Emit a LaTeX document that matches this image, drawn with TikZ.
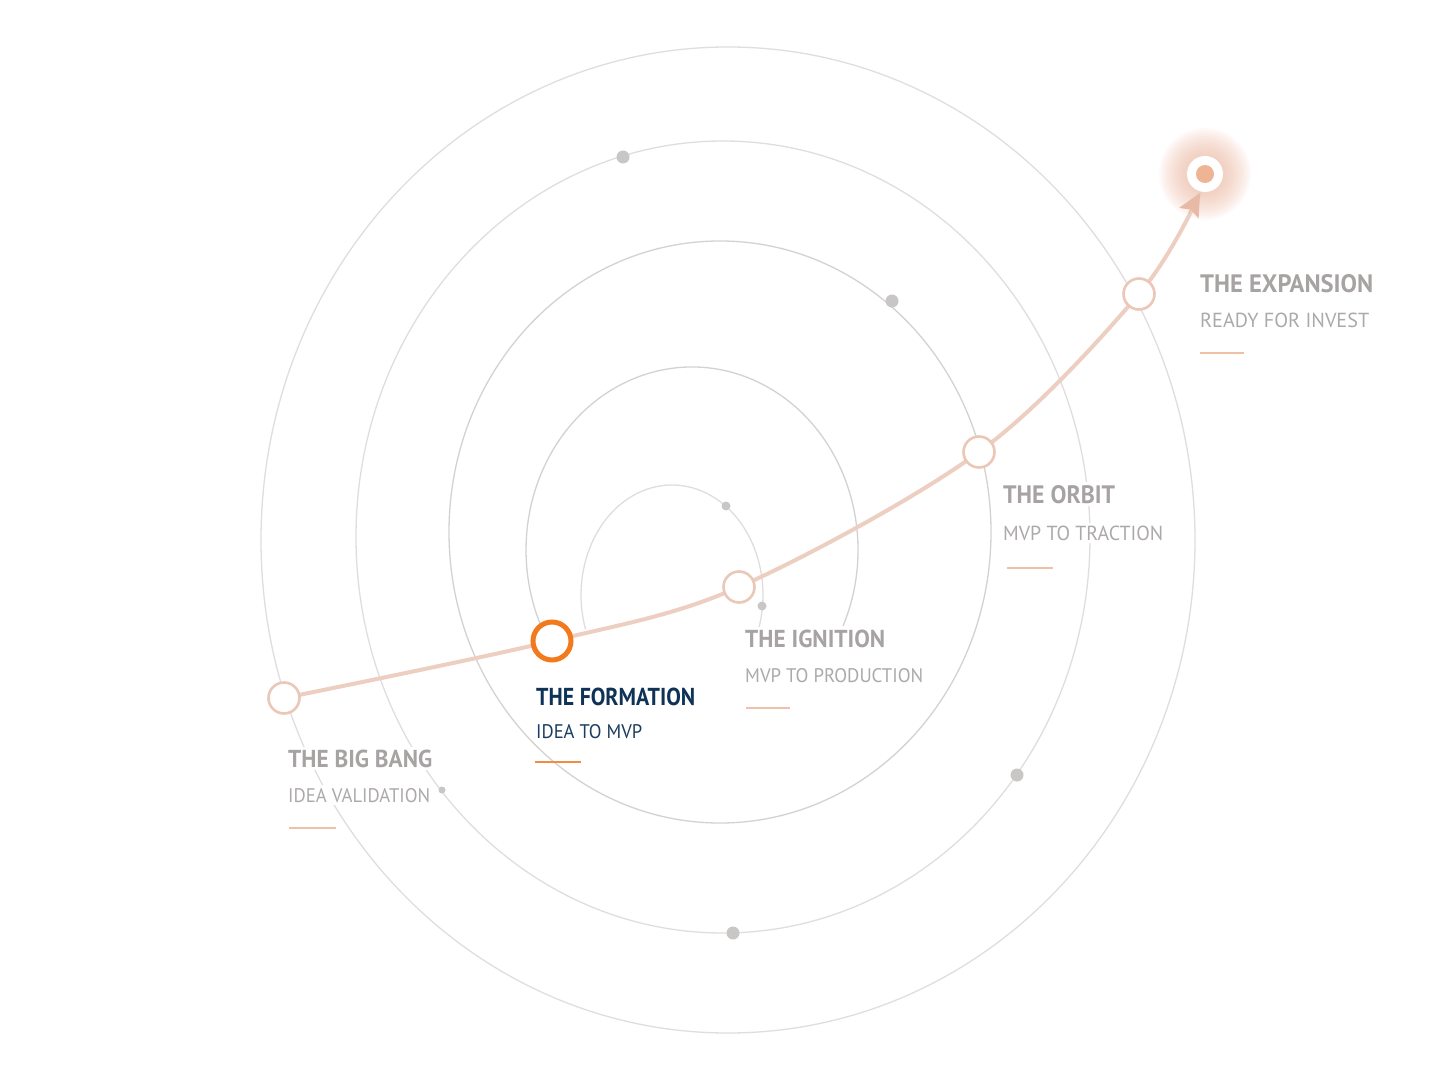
\documentclass[tikz,border=0pt]{standalone}
\usepackage{fontspec}
\setmainfont{PT Sans}
\usepackage{graphicx}
\usetikzlibrary{arrows.meta,backgrounds}
\definecolor{orbitA}{HTML}{E1DDDD}
\definecolor{orbitB}{HTML}{D5D1D1}
\definecolor{dotgray}{HTML}{C9C6C6}
\definecolor{peachline}{HTML}{EDCFC1}
\definecolor{peacharrow}{HTML}{E7BAA5}
\definecolor{peachring}{HTML}{EBC7B7}
\definecolor{peachul}{HTML}{F0C0A6}
\definecolor{orangeA}{HTML}{F37A1C}
\definecolor{orangeul}{HTML}{F08C44}
\definecolor{navy}{HTML}{0E3356}
\definecolor{navysub}{HTML}{1B3D5F}
\definecolor{graytitle}{HTML}{A7A3A3}
\definecolor{graysub}{HTML}{ADA9A9}
\definecolor{glowcol}{HTML}{F0BCA5}
\definecolor{innerdot}{HTML}{EEB494}
\newcommand{\fitto}[3]{\resizebox{#1pt}{#2pt}{#3}}
\begin{document}
\begin{tikzpicture}[x=1pt,y=-1pt,
  orbitlight/.style={draw=orbitA,line width=1.3pt},
  orbitdark/.style={draw=orbitB,line width=1.3pt},
  gdot/.style={circle,fill=dotgray,inner sep=0pt},
  stage/.style={circle,draw=peachring,line width=2.6pt,fill=white,minimum size=31pt,inner sep=0pt},
  activestage/.style={circle,draw=orangeA,line width=5pt,fill=white,minimum size=38pt,inner sep=0pt},
  lbl/.style={anchor=base west,inner sep=3pt,fill=white},
  ulgray/.style={draw=peachul,line width=2.4pt},
  ulorange/.style={draw=orangeul,line width=2.4pt},
  pathline/.style={draw=peachline,line width=4pt,line cap=round},
  glowring/.style={fill=glowcol,fill opacity=0.065}
]
% stage nodes
\node[stage] (bb) at (284,698) {};
\node[activestage] (form) at (552,641) {};
\node[stage] (ign) at (739,587) {};
\node[stage] (orb) at (979,452) {};
\node[stage] (exp) at (1139,294) {};
\node[circle,fill=white,minimum size=36pt,inner sep=0pt] (target) at (1205,174) {};
\node[circle,fill=innerdot,minimum size=18pt,inner sep=0pt] (core) at (target) {};
\coordinate (tip) at (1200,193);

% gray dots on orbits
\node[gdot,minimum size=13pt] (d1) at (623,157) {};
\node[gdot,minimum size=13pt] (d2) at (892,301) {};
\node[gdot,minimum size=9pt] (d3) at (726,506) {};
\node[gdot,minimum size=9pt] (d4) at (762,606) {};
\node[gdot,minimum size=13pt] (d5) at (1017,775) {};
\node[gdot,minimum size=13pt] (d6) at (733,933) {};
\node[gdot,minimum size=7pt] (d7) at (442,790) {};

% labels
\node[lbl,text=graytitle] (t5) at (1197,292) {\fitto{173}{18}{\bfseries THE EXPANSION}};
\node[lbl,text=graysub] (s5) at (1197,327) {\fitto{169}{14.5}{READY FOR INVEST}};
\coordinate (u5a) at (1200,353); \coordinate (u5b) at (1244,353);
\draw[ulgray] (u5a) -- (u5b);

\node[lbl,text=graytitle] (t4) at (1000,503) {\fitto{112}{18}{\bfseries THE ORBIT}};
\node[lbl,text=graysub] (s4) at (1000,540) {\fitto{160}{14.5}{MVP TO TRACTION}};
\coordinate (u4a) at (1007,568); \coordinate (u4b) at (1053,568);
\draw[ulgray] (u4a) -- (u4b);

\node[lbl,text=graytitle] (t3) at (742,647) {\fitto{140}{17.5}{\bfseries THE IGNITION}};
\node[lbl,text=graysub] (s3) at (742,682) {\fitto{178}{14}{MVP TO PRODUCTION}};
\coordinate (u3a) at (746,708); \coordinate (u3b) at (790,708);
\draw[ulgray] (u3a) -- (u3b);

\node[lbl,text=navy] (t2) at (533,705) {\fitto{159}{17.5}{\bfseries THE FORMATION}};
\node[lbl,text=navysub] (s2) at (533,738) {\fitto{106}{14}{IDEA TO MVP}};
\coordinate (u2a) at (535,762); \coordinate (u2b) at (581,762);
\draw[ulorange] (u2a) -- (u2b);

\node[lbl,text=graytitle] (t1) at (285,767) {\fitto{144}{17.5}{\bfseries THE BIG BANG}};
\node[lbl,text=graysub] (s1) at (285,802) {\fitto{142}{14}{IDEA VALIDATION}};
\coordinate (u1a) at (289,828); \coordinate (u1b) at (336,828);
\draw[ulgray] (u1a) -- (u1b);

\begin{scope}[on background layer]
  \fill[white] (0,0) rectangle (1448,1086);
  % orbits
  \draw[orbitlight] (728,540) ellipse [x radius=467, y radius=493];
  \draw[orbitlight] (723,537) ellipse [x radius=367, y radius=396];
  \draw[orbitdark] (720,532) ellipse [x radius=271, y radius=291];
  \draw[orbitdark] (692,550) ++(24.5:166 and 183) arc [start angle=24.5, end angle=-209.8, x radius=166, y radius=183];
  \draw[orbitlight] (672,595) ++(23.7:91 and 110) arc [start angle=23.7, end angle=-198.2, x radius=91, y radius=110];
  % glow of the goal
  \foreach \r in {46,44,...,18} {\fill[glowring] (target.center) circle (\r);}
  % journey path
  \draw[pathline] plot[smooth,tension=0.55] coordinates {(bb) (form) (ign) (orb) (exp) (tip)};
  \draw[draw=peacharrow,line width=1pt,-{Stealth[length=23pt,width=22pt,inset=4pt,fill=peacharrow]}] (exp) ++(50,-81) -- (tip);
\end{scope}
\end{tikzpicture}
\end{document}
